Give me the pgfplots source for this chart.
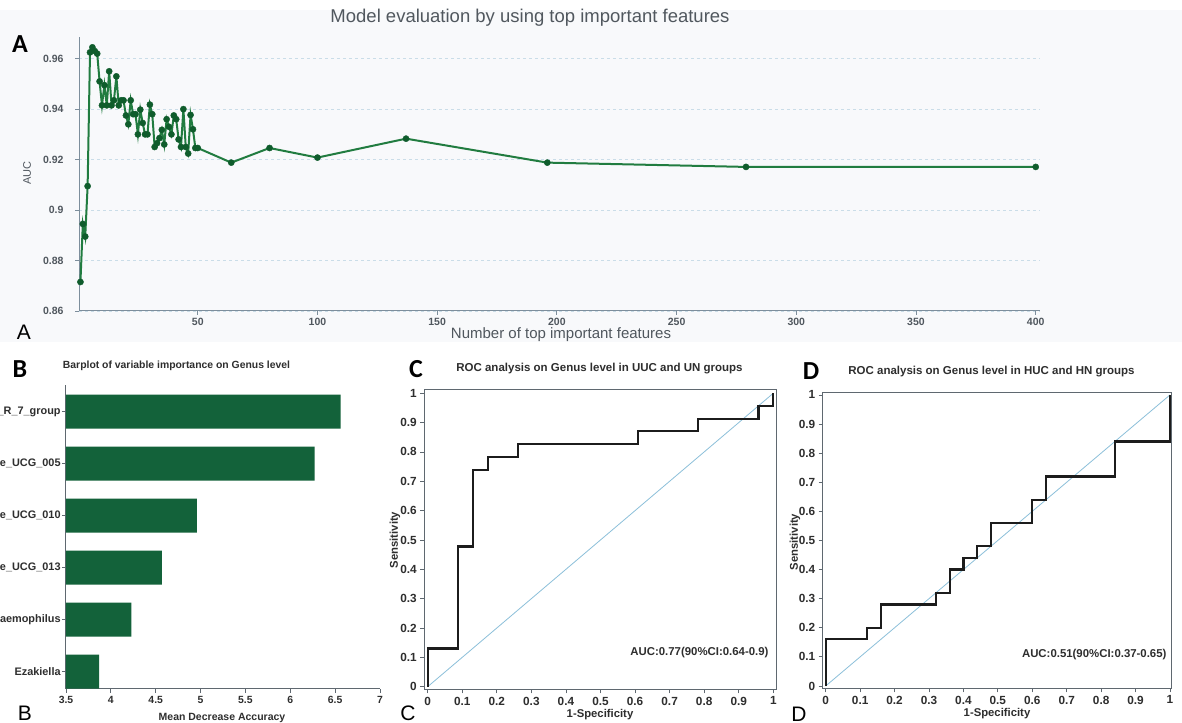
\documentclass[border=0pt]{standalone}
\usepackage{pgfplots}
\pgfplotsset{compat=1.18}
\usepackage{fontspec}
\setmainfont{Liberation Sans}
\newfontfamily\letterfont{Carlito}

\definecolor{lineA}{HTML}{217C40}
\definecolor{markA}{HTML}{0F5C2C}
\definecolor{barB}{HTML}{13623A}
\definecolor{axA}{HTML}{7D8E9C}
\definecolor{gridA}{HTML}{CADDE8}
\definecolor{txtA}{HTML}{50575E}
\definecolor{txtB}{HTML}{2E2E2E}
\definecolor{axB}{HTML}{5F6870}
\definecolor{diag}{HTML}{8CC0DA}
\definecolor{rocline}{HTML}{1C1C1C}
\definecolor{bgA}{HTML}{F8F9FB}

\newcommand\fs[1]{\fontsize{#1bp}{#1bp}\selectfont}

% number of top features vs. AUC
\pgfplotstableread{
n auc
1 0.8715
2 0.8945
3 0.8895
4 0.9095
5 0.9625
6 0.9645
7 0.9630
8 0.9620
9 0.9510
10 0.9415
11 0.9495
12 0.9415
13 0.9550
14 0.9415
15 0.9435
16 0.9530
17 0.9415
18 0.9435
19 0.9435
20 0.9375
21 0.9340
22 0.9435
23 0.9380
24 0.9380
25 0.9300
26 0.9398
27 0.9345
28 0.9300
29 0.9300
30 0.9418
31 0.9380
32 0.9250
33 0.9265
34 0.9285
35 0.9318
36 0.9260
37 0.9360
38 0.9330
39 0.9300
40 0.9375
41 0.9360
42 0.9280
43 0.9250
44 0.9400
45 0.9250
46 0.9224
47 0.9377
48 0.9320
49 0.9246
50 0.9246
64 0.9188
80 0.9246
100 0.9208
137 0.9283
196 0.9188
279 0.9171
400 0.9171
}\aucdata

% mean decrease accuracy of the top genera (bottom to top)
\pgfplotstableread{
pos mda
1 3.87
2 4.23
3 4.57
4 4.96
5 6.27
6 6.56
}\mdadata

\begin{document}
\begin{tikzpicture}[x=1bp,y=1bp]
\useasboundingbox (0,0) rectangle (1182,723);
\clip (0,0) rectangle (1182,723);
\fill[white] (0,0) rectangle (1182,723);
\fill[bgA] (0,381) rectangle (1182,713);

% ---------------- A: AUC against number of features
\begin{axis}[
  at={(79bp,412bp)}, anchor=south west, scale only axis,
  width=961bp, height=274bp,
  xmin=0.4, xmax=401.8, ymin=0.86, ymax=0.9686,
  axis lines=left, axis line style={axA, line width=1bp, -},
  xtick={50,100,150,200,250,300,350,400},
  ytick={0.86,0.88,0.9,0.92,0.94,0.96},
  yticklabels={0.86,0.88,0.9,0.92,0.94,0.96},
  ymajorgrids, grid style={gridA, dash pattern=on 3bp off 3bp, line width=0.9bp},
  tick align=outside, major tick length=4bp,
  tick style={axA, line width=0.8bp},
  ticklabel style={font=\bfseries\fs{10.5}, text=txtA},
  yticklabel style={xshift=-8bp},
  /pgf/number format/assume math mode=true,
  clip=false,
]
\addplot[lineA, line width=2bp, mark=*, mark size=3.1bp,
  mark options={fill=markA, draw=markA, line width=0.4bp}] table[x=n, y=auc] {\aucdata};
\end{axis}
\node[text=txtA, font=\fs{18.5}] at (530,705) {Model evaluation by using top important features};
\node[text=txtA, font=\fs{15}] at (561,388) {Number of top important features};
\node[text=txtA, font=\fs{11}, rotate=90] at (27,550) {AUC};
\node[font=\letterfont\bfseries\fs{26}] at (20,679) {A};
\node[font=\fs{21}] at (24,391) {A};

% ---------------- B: variable importance
\begin{axis}[
  at={(66bp,34bp)}, anchor=south west, scale only axis,
  width=314bp, height=304bp,
  xmin=3.5, xmax=7, ymin=0.667, ymax=6.51,
  axis lines=left, axis line style={axB, line width=1bp, -},
  xtick={3.5,4,4.5,5,5.5,6,6.5,7},
  ytick={1,2,3,4,5,6},
  yticklabels={Ezakiella, Haemophilus, Ruminococcaceae\_UCG\_013,
    Ruminococcaceae\_UCG\_010, Ruminococcaceae\_UCG\_005,
    Christensenellaceae\_R\_7\_group},
  tick align=outside, major tick length=4bp,
  tick style={axB, line width=0.8bp},
  ticklabel style={font=\bfseries\fs{10.4}, text=txtB},
  yticklabel style={font=\bfseries\fs{10.9}, inner sep=1.2bp},
  /pgf/number format/assume math mode=true,
]
\addplot[xbar, bar width=34bp, fill=barB, draw=none] table[x=mda, y=pos] {\mdadata};
\end{axis}
\node[text=txtB, font=\bfseries\fs{10.4}] at (176.5,357) {Barplot of variable importance on Genus level};
\node[text=txtB, font=\bfseries\fs{10.5}] at (222,5) {Mean Decrease Accuracy};
\node[font=\letterfont\bfseries\fs{26}] at (20,354) {B};
\node[font=\fs{21}] at (25,10) {B};

% ---------------- common style for the two ROC panels
\pgfplotsset{rocaxis/.style={
  anchor=south west, scale only axis,
  axis line style={axB, line width=1bp},
  xtick={0,0.1,0.2,0.3,0.4,0.5,0.6,0.7,0.8,0.9,1},
  ytick={0,0.1,0.2,0.3,0.4,0.5,0.6,0.7,0.8,0.9,1},
  xticklabels={0,0.1,0.2,0.3,0.4,0.5,0.6,0.7,0.8,0.9,1},
  yticklabels={0,0.1,0.2,0.3,0.4,0.5,0.6,0.7,0.8,0.9,1},
  tick pos=left, tick align=outside, major tick length=4bp,
  tick style={axB, line width=0.8bp},
  ticklabel style={font=\bfseries\fs{11.8}, text=txtB},
  /pgf/number format/assume math mode=true,
}}

% ---------------- C: ROC, UUC vs UN
\begin{axis}[rocaxis,
  at={(424.3bp,33.7bp)}, width=352.4bp, height=299.3bp,
  xmin=-0.0098, xmax=1.0098, ymin=-0.0089, ymax=1.011,
]
\addplot[diag, line width=0.8bp] coordinates {(0,0) (1,1)};
\addplot[rocline, line width=2.2bp] coordinates {
  (0,0) (0,0.130) (0.087,0.130) (0.087,0.478) (0.130,0.478) (0.130,0.739)
  (0.174,0.739) (0.174,0.783) (0.261,0.783) (0.261,0.826) (0.609,0.826)
  (0.609,0.870) (0.783,0.870) (0.783,0.913) (0.957,0.913) (0.957,0.957)
  (1,0.957) (1,1)};
\end{axis}
\node[text=txtB, font=\bfseries\fs{11.5}] at (599.5,354) {ROC analysis on Genus level in UUC and UN groups};
\node[text=txtB, font=\bfseries\fs{11.4}, anchor=east] at (772,70) {AUC:0.77(90\%CI:0.64-0.9)};
\node[text=txtB, font=\bfseries\fs{11.3}] at (600,8) {1-Specificity};
\node[text=txtB, font=\bfseries\fs{11.3}, rotate=90] at (395,183) {Sensitivity};
\node[font=\letterfont\bfseries\fs{26}] at (416,354) {C};
\node[font=\fs{21}] at (408,10) {C};

% ---------------- D: ROC, HUC vs HN
\begin{axis}[rocaxis,
  at={(822.7bp,34.7bp)}, width=349bp, height=296bp,
  xmin=-0.0087, xmax=1.005, ymin=-0.008, ymax=1.009,
]
\addplot[diag, line width=0.8bp] coordinates {(0,0) (1,1)};
\addplot[rocline, line width=2.2bp] coordinates {
  (0,0) (0,0.16) (0.12,0.16) (0.12,0.20) (0.16,0.20) (0.16,0.28) (0.32,0.28)
  (0.32,0.32) (0.36,0.32) (0.36,0.40) (0.40,0.40) (0.40,0.44) (0.44,0.44)
  (0.44,0.48) (0.48,0.48) (0.48,0.56) (0.60,0.56) (0.60,0.64) (0.64,0.64)
  (0.64,0.72) (0.84,0.72) (0.84,0.84) (1,0.84) (1,1)};
\end{axis}
\node[text=txtB, font=\bfseries\fs{11.5}] at (991.5,351) {ROC analysis on Genus level in HUC and HN groups};
\node[text=txtB, font=\bfseries\fs{11.4}, anchor=east] at (1170,68) {AUC:0.51(90\%CI:0.37-0.65)};
\node[text=txtB, font=\bfseries\fs{11.3}] at (997,9) {1-Specificity};
\node[text=txtB, font=\bfseries\fs{11.3}, rotate=90] at (795,181) {Sensitivity};
\node[font=\letterfont\bfseries\fs{26}] at (811,352) {D};
\node[font=\fs{21}] at (799,9) {D};
\end{tikzpicture}
\end{document}
